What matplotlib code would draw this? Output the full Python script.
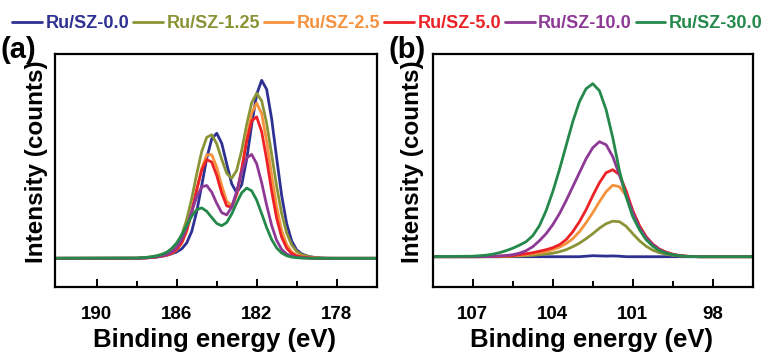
#!/usr/bin/env python3
"""XPS spectra of the Ru/SZ series: (a) Ru 3d region, (b) Si 2p region."""

import matplotlib

matplotlib.use("Agg")
import matplotlib.pyplot as plt  # noqa: E402
from matplotlib.ticker import FixedLocator  # noqa: E402

plt.rcParams["font.family"] = ["Liberation Sans", "DejaVu Sans"]
plt.rcParams["font.weight"] = "bold"

SAMPLES = ["Ru/SZ-0.0", "Ru/SZ-1.25", "Ru/SZ-2.5", "Ru/SZ-5.0", "Ru/SZ-10.0", "Ru/SZ-30.0"]
COLORS = ["#2E3192", "#8A9436", "#F5923E", "#EC2227", "#8E3996", "#24894A"]

# Ru 3d region, binding energy (eV) and intensity (arb. counts above background)
RU3D_ENERGY = [
    193.0, 188.0, 187.75, 187.5, 187.25, 187.0, 186.75, 186.5, 186.25, 186.0,
    185.75, 185.5, 185.25, 185.0, 184.75, 184.5, 184.25, 184.0, 183.75, 183.5,
    183.25, 183.0, 182.75, 182.5, 182.25, 182.0, 181.75, 181.5, 181.25, 181.0,
    180.75, 180.5, 180.25, 180.0, 179.75, 179.5, 179.25, 179.0, 178.75, 178.5,
    178.25, 178.0, 175.0,
]
RU3D_00 = [
    0, 0, 0.2, 0.4, 0.8, 1.3, 2, 3, 4.5, 6.5,
    9.5, 15.5, 27, 47, 73, 100, 119.5, 125, 115, 94.5,
    74.5, 65.5, 73.5, 99, 133.5, 164, 178, 169, 139.5, 100.5,
    63, 35, 17.5, 8.5, 4.5, 2.5, 1.3, 0.6, 0.3, 0.1,
    0, 0, 0,
]
RU3D_125 = [
    0, 0.2, 0.5, 0.9, 1.6, 2.6, 4, 6, 9, 14,
    23.5, 39, 60, 84.5, 107, 121, 123.5, 114.5, 99, 85,
    80, 88, 108, 133.5, 155.5, 165, 157.5, 135, 104, 72,
    45, 25.5, 13.5, 7, 3.8, 2.2, 1.2, 0.6, 0.3, 0.1,
    0, 0, 0,
]
RU3D_25 = [
    0, 0, 0.2, 0.5, 0.9, 1.4, 2.2, 3.3, 5, 8.5,
    15, 27, 45.5, 68.5, 90.2, 103.5, 103.6, 91.2, 72.6, 57,
    52.5, 63.5, 88.2, 119.3, 145.3, 155.2, 144.6, 117.3, 83, 51.5,
    28, 14, 6.5, 3.2, 1.8, 1, 0.5, 0.2, 0, 0,
    0, 0, 0,
]
RU3D_50 = [
    0, 0, 0.2, 0.5, 0.9, 1.4, 2.2, 3.4, 5.2, 9,
    16, 28.5, 47, 69, 88.3, 98.7, 96.2, 82.8, 65.3, 52.4,
    51.1, 64.4, 89.2, 117.2, 137.5, 141.4, 126.7, 98.9, 67.3, 40.2,
    21.2, 10.2, 4.8, 2.4, 1.3, 0.7, 0.3, 0.1, 0, 0,
    0, 0, 0,
]
RU3D_100 = [
    0, 0.1, 0.3, 0.6, 1, 1.6, 2.5, 4, 6.5, 11,
    19, 31.3, 46.8, 61.7, 71.5, 72.8, 66.1, 55, 45.6, 43.4,
    51.1, 67.2, 86.1, 100.4, 103.9, 94.6, 75.7, 53.1, 32.9, 18,
    9, 4.3, 2.1, 1.1, 0.6, 0.3, 0.1, 0, 0, 0,
    0, 0, 0,
]
RU3D_300 = [
    0, 0.3, 0.6, 1, 1.6, 2.4, 3.8, 6, 10, 15.5,
    23.5, 33, 42.2, 48.7, 50.4, 47, 40.8, 34.9, 32.6, 35.8,
    44.3, 55.5, 65.5, 70.2, 67.5, 58.2, 44.7, 30.7, 18.8, 10.4,
    5.3, 2.6, 1.2, 0.6, 0.3, 0.1, 0, 0, 0, 0,
    0, 0, 0,
]

# Si 2p region
SI2P_ENERGY = [
    109.0, 107.0, 106.75, 106.5, 106.25, 106.0, 105.75, 105.5, 105.25, 105.0,
    104.75, 104.5, 104.25, 104.0, 103.75, 103.5, 103.25, 103.0, 102.75, 102.5,
    102.25, 102.0, 101.75, 101.5, 101.25, 101.0, 100.75, 100.5, 100.25, 100.0,
    99.75, 99.5, 99.25, 99.0, 98.75, 98.5, 96.0,
]
SI2P_00 = [
    0, 0, 0, 0, 0, 0, 0, 0, 0, 0,
    0, 0, 0, 0, 0, 0, 0, 0, 0.5, 1,
    0.8, 0.6, 0.8, 0.5, 0, 0, 0, 0, 0, 0,
    0, 0, 0, 0, 0, 0, 0,
]
SI2P_125 = [
    0, 0, 0, 0, 0, 0, 0.2, 0.4, 0.7, 1,
    1.4, 2, 2.7, 3.5, 5, 7, 10, 13.5, 18, 23,
    28.5, 33, 35.5, 35, 30.5, 23, 16, 10.5, 6.5, 4,
    2.5, 1.4, 0.7, 0.3, 0.1, 0, 0,
]
SI2P_25 = [
    0, 0, 0, 0.1, 0.2, 0.4, 0.6, 1, 1.5, 2,
    3, 4, 5, 7, 9.5, 13, 18, 25, 34, 44,
    55, 65, 71.5, 70, 61, 46, 31, 20, 12.5, 7.5,
    4.5, 2.5, 1.2, 0.5, 0.2, 0, 0,
]
SI2P_50 = [
    0, 0, 0, 0.1, 0.3, 0.5, 0.7, 1, 2, 3,
    4, 5.5, 7, 9, 12, 17, 25, 35, 47, 61,
    74, 84, 87, 82, 66, 46, 31, 20, 12.5, 7.5,
    4.5, 2.5, 1.2, 0.5, 0.2, 0, 0,
]
SI2P_100 = [
    0, 0, 0.1, 0.2, 0.4, 0.7, 1.2, 2, 3.5, 6,
    10, 16, 23, 32, 43, 56, 70, 84, 98, 109,
    115, 112, 100, 82, 62, 44, 29, 19, 12, 7,
    4, 2, 1, 0.4, 0.1, 0, 0,
]
SI2P_300 = [
    0, 0.5, 1, 1.5, 2.5, 4, 6, 8.5, 11.5, 15,
    21, 31, 46, 65, 87, 111, 135, 155, 168, 173,
    166, 147, 119, 86, 60, 40, 27, 17, 10.5, 6,
    3.5, 2, 1, 0.4, 0.1, 0, 0,
]

PANELS = [
    dict(energy=RU3D_ENERGY,
         series=[RU3D_00, RU3D_125, RU3D_25, RU3D_50, RU3D_100, RU3D_300],
         xlim=(192.1, 175.95), ylim=(-28.2, 204.3), ticks=[190, 186, 182, 178],
         minor=[188, 184, 180], rect=[0.0716, 0.1952, 0.4199, 0.6531], tag="(a)",
         tag_x=1, ylab_x=36.5, xlab_x=214.5),
    dict(energy=SI2P_ENERGY,
         series=[SI2P_00, SI2P_125, SI2P_25, SI2P_50, SI2P_100, SI2P_300],
         xlim=(108.49, 96.48), ylim=(-29.8, 202.7), ticks=[107, 104, 101, 98],
         minor=[105.5, 102.5, 99.5], rect=[0.5638, 0.1952, 0.4171, 0.6531], tag="(b)",
         tag_x=389, ylab_x=412, xlab_x=591.5),
]

W, H = 768, 356
fig = plt.figure(figsize=(W / 100, H / 100), dpi=100)

handles = None
for p in PANELS:
    ax = fig.add_axes(p["rect"])
    lines = []
    for y, c, name in zip(p["series"], COLORS, SAMPLES):
        (ln,) = ax.plot(p["energy"], y, color=c, lw=2.0, label=name,
                        solid_joinstyle="round", solid_capstyle="round")
        lines.append(ln)
    if handles is None:
        handles = lines
    ax.set_xlim(*p["xlim"])
    ax.set_ylim(*p["ylim"])
    ax.set_xticks(p["ticks"])
    ax.xaxis.set_minor_locator(FixedLocator(p["minor"]))
    ax.set_yticks([])
    ax.tick_params(axis="x", which="both", direction="in", width=1.4,
                   top=False, labelsize=13.5, pad=14)
    ax.tick_params(axis="x", which="major", length=6)
    ax.tick_params(axis="x", which="minor", length=4.5)
    for lab in ax.get_xticklabels():
        lab.set_fontweight("bold")
    for sp in ax.spines.values():
        sp.set_linewidth(1.6)

    fig.text(p["xlab_x"] / W, 1 - 347 / H, "Binding energy (eV)",
             ha="center", va="baseline", fontsize=18.5, fontweight="bold")
    fig.text(p["ylab_x"] / W, 1 - 162 / H, "Intensity (counts)", rotation=90,
             ha="center", va="center", fontsize=17.5, fontweight="bold")
    fig.text(p["tag_x"] / W, 1 - 50 / H, p["tag"], ha="left", va="center",
             fontsize=21, fontweight="bold")

fig.legend(handles, SAMPLES, loc="center", bbox_to_anchor=(0.5046, 1 - 24 / H),
           ncol=6, frameon=False, handlelength=1.65, handletextpad=0.2,
           columnspacing=0.2, borderpad=0, borderaxespad=0,
           labelcolor="linecolor", prop={"weight": "bold", "size": 13})

fig.savefig("out.png", dpi=100)
